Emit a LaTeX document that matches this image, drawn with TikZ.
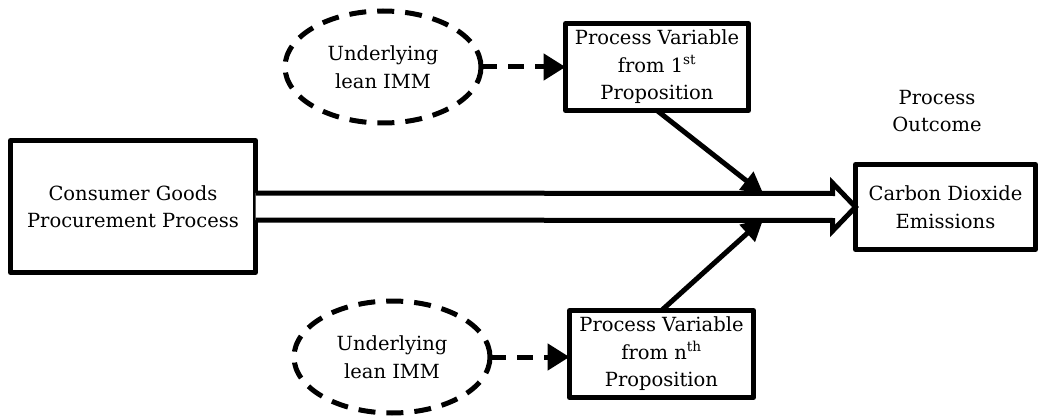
\documentclass[tikz,border=0pt]{standalone}
\usepackage{fontspec}
\setmainfont{DejaVu Serif}
\usetikzlibrary{arrows.meta,shapes.geometric,calc}
\begin{document}
\begin{tikzpicture}[x=1pt,y=-1pt,
  every node/.style={font=\fontsize{19.5}{27.5}\selectfont, align=center, inner sep=0pt, outer sep=0pt},
  block/.style={draw, line width=5pt, line join=round},
  bubble/.style={draw, ellipse, line width=5pt, dash pattern=on 17pt off 11pt},
  link/.style={line width=5pt, -{Triangle[length=22pt,width=22pt]}, shorten >=-2pt},
  dlink/.style={line width=5pt, dash pattern=on 16pt off 11pt, -{Triangle[length=22pt,width=26pt]}}]
\useasboundingbox (0,0) rectangle (1045,417);

% boxes
\node[block, minimum width=245pt, minimum height=132pt] (proc) at (133,206.5)
  {Consumer Goods\\Procurement Process};
\node[block, minimum width=180pt, minimum height=85pt] (co2) at (945.5,207)
  {Carbon Dioxide\\Emissions};
\node[block, minimum width=183pt, minimum height=87pt] (pv1) at (657,67)
  {Process Variable\\from 1\textsuperscript{st}\\Proposition};
\node[block, minimum width=184pt, minimum height=87pt] (pvn) at (661.5,354)
  {Process Variable\\from n\textsuperscript{th}\\Proposition};
\node (out) at (937,111) {Process\\Outcome};

% lean IMM ellipses
\node[bubble, minimum width=196pt, minimum height=112pt] (imm1) at (383,67)
  {Underlying\\lean IMM};
\node[bubble, minimum width=196pt, minimum height=112pt] (immn) at (392,357)
  {Underlying\\lean IMM};

% hollow block arrow from the process to its outcome
\coordinate (hT) at ($(proc.east)+(0,-13.5)$);
\coordinate (hB) at ($(proc.east)+(0,13.5)$);
\coordinate (tip) at (co2.west);
\draw[line width=5pt, line join=miter, fill=white]
  (hT) -- ($(tip)+(-23,-13.5)$) -- ($(tip)+(-23,-24)$) -- (tip)
  -- ($(tip)+(-23,24)$) -- ($(tip)+(-23,13.5)$) -- (hB);
\coordinate (jT) at (762,193);
\coordinate (jB) at (762,220);

% variable influences
\draw[link] (pv1.south) -- (jT);
\draw[link] (pvn.north) -- (jB);
\draw[dlink] (imm1.east) -- (imm1.east -| pv1.west);
\draw[dlink] (immn.east) -- (immn.east -| pvn.west);
\end{tikzpicture}
\end{document}
